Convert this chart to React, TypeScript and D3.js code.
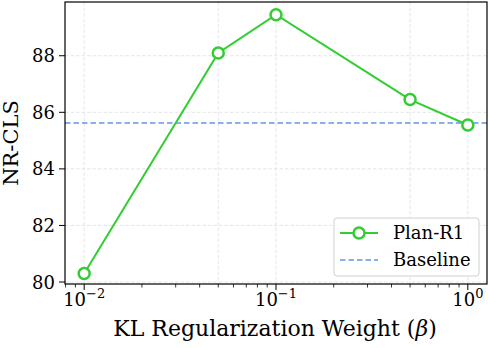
import React, { useEffect, useRef } from "react";
import * as d3 from "d3";

const betas = [0.01, 0.05, 0.1, 0.5, 1.0];
const nrCls = [80.3, 88.1, 89.45, 86.45, 85.55];
const baseline = 85.62;
const yTicks = [80, 82, 84, 86, 88];
const xMajor = [-2, -1, 0];

const App = () => {
  const svgRef = useRef<SVGSVGElement>(null);

  useEffect(() => {
    if (!svgRef.current) return;
    const width = 490;
    const height = 348;
    const left = 65, right = 487, top = 2, bottom = 284;
    const font = '"DejaVu Serif", serif';

    const svg = d3.select(svgRef.current).attr("width", width).attr("height", height);
    svg.selectAll("*").remove();

    const x = d3.scaleLog().domain([Math.pow(10, -2.1), Math.pow(10, 0.1)]).range([left, right]);
    const y = d3.scaleLinear().domain([79.93, 89.9]).range([bottom, top]);

    // grid: vertical at each beta, horizontal at y ticks
    const grid = svg.append("g").attr("stroke", "#e2e2e2").attr("stroke-width", 0.9).attr("stroke-dasharray", "3.5,2");
    betas.forEach((b) => {
      grid.append("line").attr("x1", x(b)).attr("x2", x(b)).attr("y1", top).attr("y2", bottom);
    });
    yTicks.forEach((t) => {
      grid.append("line").attr("x1", left).attr("x2", right).attr("y1", y(t)).attr("y2", y(t));
    });

    // baseline
    svg.append("line")
      .attr("x1", left).attr("x2", right)
      .attr("y1", y(baseline)).attr("y2", y(baseline))
      .attr("stroke", "#6495ED").attr("stroke-width", 1.5).attr("stroke-dasharray", "5.5,3");

    const data = betas.map((b, i) => ({ b, v: nrCls[i] }));
    const line = d3.line<{ b: number; v: number }>().x((d) => x(d.b)).y((d) => y(d.v));
    svg.append("path").datum(data).attr("fill", "none").attr("stroke", "#32CD32").attr("stroke-width", 2).attr("d", line);
    svg.selectAll("circle.pt").data(data).enter().append("circle")
      .attr("class", "pt")
      .attr("cx", (d) => x(d.b)).attr("cy", (d) => y(d.v)).attr("r", 5.5)
      .attr("fill", "white").attr("stroke", "#32CD32").attr("stroke-width", 2.5);

    // frame
    svg.append("rect").attr("x", left).attr("y", top).attr("width", right - left).attr("height", bottom - top)
      .attr("fill", "none").attr("stroke", "black").attr("stroke-width", 1.2);

    // y ticks
    yTicks.forEach((t) => {
      svg.append("line").attr("x1", left - 6).attr("x2", left).attr("y1", y(t)).attr("y2", y(t)).attr("stroke", "black").attr("stroke-width", 1);
      svg.append("text").attr("x", left - 10).attr("y", y(t)).attr("dy", "0.36em").attr("text-anchor", "end")
        .style("font-family", font).style("font-size", "18px").text(String(t));
    });

    // x ticks, major and minor
    xMajor.forEach((e) => {
      const px = x(Math.pow(10, e));
      svg.append("line").attr("x1", px).attr("x2", px).attr("y1", bottom).attr("y2", bottom + 6).attr("stroke", "black").attr("stroke-width", 1);
      const t = svg.append("text").attr("x", px).attr("y", bottom + 22).attr("text-anchor", "middle")
        .style("font-family", font).style("font-size", "18px");
      t.append("tspan").text("10");
      t.append("tspan").attr("dy", -8).style("font-size", "13px").text(e === 0 ? "0" : `\u2212${-e}`);
    });
    for (let e = -3; e <= 0; e++) {
      for (let m = 2; m <= 9; m++) {
        const v = m * Math.pow(10, e);
        const px = x(v);
        if (px < left || px > right) continue;
        svg.append("line").attr("x1", px).attr("x2", px).attr("y1", bottom).attr("y2", bottom + 3.5).attr("stroke", "black").attr("stroke-width", 0.8);
      }
    }

    // axis labels
    const xl = svg.append("text").attr("x", 275).attr("y", 336).attr("text-anchor", "middle")
      .style("font-family", font).style("font-size", "22px");
    xl.append("tspan").text("KL Regularization Weight (");
    xl.append("tspan").style("font-style", "italic").text("\u03B2");
    xl.append("tspan").text(")");
    svg.append("text").attr("transform", `translate(18,${(top + bottom) / 2}) rotate(-90)`).attr("text-anchor", "middle")
      .style("font-family", font).style("font-size", "21px").text("NR-CLS");

    // legend
    const lg = svg.append("g");
    lg.append("rect").attr("x", 334).attr("y", 218).attr("width", 145).attr("height", 58).attr("rx", 3)
      .attr("fill", "white").attr("fill-opacity", 0.85).attr("stroke", "#d0d0d0").attr("stroke-width", 1);
    lg.append("line").attr("x1", 340).attr("x2", 378).attr("y1", 233).attr("y2", 233).attr("stroke", "#32CD32").attr("stroke-width", 2);
    lg.append("circle").attr("cx", 359).attr("cy", 233).attr("r", 5.5).attr("fill", "white").attr("stroke", "#32CD32").attr("stroke-width", 2.5);
    lg.append("line").attr("x1", 340).attr("x2", 378).attr("y1", 260).attr("y2", 260).attr("stroke", "#6495ED").attr("stroke-width", 1.5).attr("stroke-dasharray", "5.5,3");
    lg.append("text").attr("x", 393).attr("y", 233).attr("dy", "0.36em").style("font-family", font).style("font-size", "18px").text("Plan-R1");
    lg.append("text").attr("x", 393).attr("y", 260).attr("dy", "0.36em").style("font-family", font).style("font-size", "18px").text("Baseline");
  }, []);

  return <svg ref={svgRef} style={{ position: "absolute", left: 0, top: 0 }}></svg>;
};

export default App;
